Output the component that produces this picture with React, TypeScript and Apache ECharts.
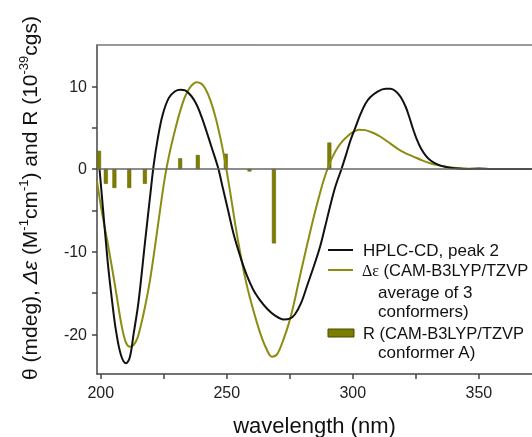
import React, { useEffect, useRef } from "react";
import * as echarts from "echarts";

const FONT = "'Liberation Sans', Arial, sans-serif";

const xTickLabels = [200, 250, 300, 350];
const xTicks = [200, 225, 250, 275, 300, 325, 350];
const yTickLabels = [-20, -10, 0, 10];
const yTicks = [-20, -15, -10, -5, 0, 5, 10];

// HPLC-CD, peak 2 (black)
const hplcWl = [199.5, 200.5, 201.5, 203, 204.5, 206, 208, 210, 211.5, 213, 215, 217.5, 219.5, 221, 222.5, 224.5, 227, 229.5, 231.5, 233.5, 236, 238, 240, 242, 244, 246.5, 248.5, 250.5, 253, 256, 258, 260.5, 263, 266, 269, 272.5, 275, 277, 279.5, 282, 284.5, 287, 289, 291, 293, 295.5, 297.5, 299, 301, 303, 305, 307, 310, 313, 315, 317, 319, 321, 322.5, 324, 325.5, 327, 329, 331, 334, 337, 340, 345, 350, 355, 360, 365, 371];
const hplcCd = [0, -3.5, -7, -12, -16, -19.5, -22.5, -23.5, -22.8, -20, -16, -9, -3.5, 0.5, 3.5, 6.5, 8.6, 9.4, 9.6, 9.5, 8.8, 7.8, 6.3, 4.5, 2.6, 0.2, -2.4, -5, -8.2, -11.2, -12.9, -14.6, -15.8, -16.9, -17.7, -18.2, -18.1, -17.6, -16.2, -14, -11.8, -9.4, -7, -4.5, -2.2, 0, 1.9, 3.4, 5.0, 6.6, 7.9, 8.7, 9.4, 9.7, 9.7, 9.4, 8.7, 7.5, 6.2, 4.75, 3.5, 2.5, 1.6, 1.0, 0.5, 0.25, 0.1, 0, 0.05, 0, 0, 0, 0];

// Δε (CAM-B3LYP/TZVP, average of 3 conformers) (olive)
const calcWl = [198.5, 200.5, 203, 205.7, 208.3, 210, 211.6, 213, 214.5, 216, 217.6, 219.5, 221.5, 223.5, 225.5, 227.5, 229.5, 231.5, 233.5, 235.5, 238, 240, 241.5, 243.5, 245.5, 247.5, 249.3, 251.3, 253.3, 255.3, 257.3, 259.2, 261.2, 263.2, 265.5, 267.9, 270, 272.5, 274.5, 276.4, 279, 281.7, 284.5, 287, 288.5, 290.3, 292, 294, 296, 298, 300, 302.5, 305, 308.2, 311, 314.8, 318, 321, 324, 327.5, 330.7, 334, 337.3, 341, 345, 350, 360, 371];
const calcDe = [-1.5, -5.3, -9.4, -14.2, -19, -21, -21.5, -21.3, -20.5, -18.8, -16.6, -13.5, -9.4, -5, -0.9, 2.2, 4.75, 7, 8.8, 9.9, 10.5, 10.3, 9.7, 8.3, 6.3, 3.7, 0.9, -2.7, -6.6, -10.1, -13.2, -15.6, -17.8, -19.8, -21.6, -22.7, -22.4, -20.6, -18.8, -16.6, -13, -9.4, -5.8, -2.9, -1.3, 0.3, 1.5, 2.6, 3.4, 4.0, 4.45, 4.75, 4.7, 4.35, 3.9, 3.1, 2.4, 1.9, 1.5, 1.05, 0.7, 0.45, 0.25, 0.12, 0.05, 0, 0, 0];

// R (CAM-B3LYP/TZVP, conformer A) sticks
const rWl = [199.3, 202, 205.4, 211.3, 217.5, 231.5, 238.5, 249.6, 259, 268.7, 290.7];
const rVal = [2.2, -1.8, -2.3, -2.3, -1.8, 1.3, 1.7, 1.85, -0.3, -9.0, 3.2];

const BLACK = "#111111";
const OLIVE_LINE = "#8c8c12";
const OLIVE_BAR = "#7d7d00";

export default function App() {
  const ref = useRef<HTMLDivElement>(null);
  useEffect(() => {
    if (!ref.current) return;
    const chart = echarts.init(ref.current, undefined, { renderer: "svg" });
    const xMin = 198.5;
    const xMax = 371.1;
    const axisLine = { show: true, onZero: false, lineStyle: { color: "#444", width: 1.5 } };
    const option: any = {
      animation: false,
      grid: { left: 97, top: 45, right: 0, bottom: 63, containLabel: false, outerBoundsMode: "none" },
      xAxis: [
        {
          type: "value",
          min: xMin,
          max: xMax,
          axisLine,
          axisTick: { show: true, inside: false, length: 5, customValues: xTicks, lineStyle: { color: "#444", width: 1.5 } },
          axisLabel: { customValues: xTickLabels, fontSize: 16, color: "#222", margin: 10, fontFamily: FONT },
          splitLine: { show: false },
          name: "wavelength (nm)",
          nameLocation: "middle",
          nameGap: 40,
          nameTextStyle: { fontSize: 22, color: "#111", fontFamily: FONT },
        },
        {
          type: "value",
          position: "top",
          min: xMin,
          max: xMax,
          axisLine: { show: true, onZero: false, lineStyle: { color: "#777", width: 1.5 } },
          axisTick: { show: false },
          axisLabel: { show: false },
          splitLine: { show: false },
        },
      ],
      yAxis: {
        type: "value",
        min: -24.8,
        max: 15,
        axisLine,
        axisTick: { show: true, inside: false, length: 5, customValues: yTicks, lineStyle: { color: "#444", width: 1.5 } },
        axisLabel: { customValues: yTickLabels, fontSize: 16, color: "#222", margin: 10, fontFamily: FONT },
        splitLine: { show: false },
      },
      series: [
        {
          type: "bar",
          name: "R",
          data: rWl.map((w, i) => [w, rVal[i]]),
          barWidth: 4,
          itemStyle: { color: OLIVE_BAR, borderColor: "#5e5e00", borderWidth: 0.5 },
          z: 1,
          markLine: {
            silent: true,
            symbol: "none",
            label: { show: false },
            lineStyle: { color: "#666", width: 1.5, type: "solid" },
            data: [{ yAxis: 0 }],
          },
        },
        {
          type: "line",
          name: "Δε",
          data: calcWl.map((w, i) => [w, calcDe[i]]),
          showSymbol: false,
          symbol: "none",
          smooth: 0.35,
          lineStyle: { color: OLIVE_LINE, width: 2 },
          z: 3,
        },
        {
          type: "line",
          name: "HPLC-CD",
          data: hplcWl.map((w, i) => [w, hplcCd[i]]),
          showSymbol: false,
          symbol: "none",
          smooth: 0.35,
          lineStyle: { color: BLACK, width: 2 },
          z: 4,
        },
      ],
      graphic: [
        {
          type: "text",
          x: 29,
          y: 198,
          rotation: Math.PI / 2,
          style: {
            text: "{m|θ (mdeg), }{i|Δε}{m| (M}{s|-1}{m|cm}{s|-1}{m|) and R (10}{s|-39}{m|cgs)}",
            align: "center",
            verticalAlign: "middle",
            fill: "#111",
            rich: {
              m: { fontSize: 21, fontFamily: FONT, fill: "#111", lineHeight: 24 },
              i: { fontSize: 21, fontFamily: FONT, fontStyle: "italic", fill: "#111", lineHeight: 24 },
              s: { fontSize: 13, fontFamily: FONT, fill: "#111", lineHeight: 13, verticalAlign: "top" },
            },
          },
        },
        { type: "line", shape: { x1: 328, y1: 250, x2: 353, y2: 250 }, style: { stroke: BLACK, lineWidth: 2 } },
        { type: "text", x: 363, y: 250, style: { text: "HPLC-CD, peak 2", fontSize: 17, fontFamily: FONT, fill: "#111", verticalAlign: "middle" } },
        { type: "line", shape: { x1: 328, y1: 270, x2: 353, y2: 270 }, style: { stroke: OLIVE_LINE, lineWidth: 2 } },
        {
          type: "text",
          x: 362,
          y: 270,
          style: {
            text: "{g|Δε}{t| (CAM-B3LYP/TZVP}",
            verticalAlign: "middle",
            rich: {
              g: { fontSize: 16, fontFamily: "'Liberation Serif', serif", fill: "#111" },
              t: { fontSize: 16.5, fontFamily: FONT, fill: "#111" },
            },
          },
        },
        { type: "text", x: 378, y: 292, style: { text: "average of 3", fontSize: 17, fontFamily: FONT, fill: "#111", verticalAlign: "middle" } },
        { type: "text", x: 378, y: 311, style: { text: "conformers)", fontSize: 17, fontFamily: FONT, fill: "#111", verticalAlign: "middle" } },
        { type: "rect", shape: { x: 328, y: 329, width: 26, height: 8 }, style: { fill: OLIVE_BAR, stroke: "#4a4a00", lineWidth: 1 } },
        { type: "text", x: 363, y: 333, style: { text: "R (CAM-B3LYP/TZVP", fontSize: 16.5, fontFamily: FONT, fill: "#111", verticalAlign: "middle" } },
        { type: "text", x: 378, y: 352, style: { text: "conformer A)", fontSize: 17, fontFamily: FONT, fill: "#111", verticalAlign: "middle" } },
      ],
    };
    chart.setOption(option);
    return () => chart.dispose();
  }, []);
  return <div ref={ref} style={{ position: "fixed", left: 0, top: 0, width: 532, height: 437 }} />;
}
